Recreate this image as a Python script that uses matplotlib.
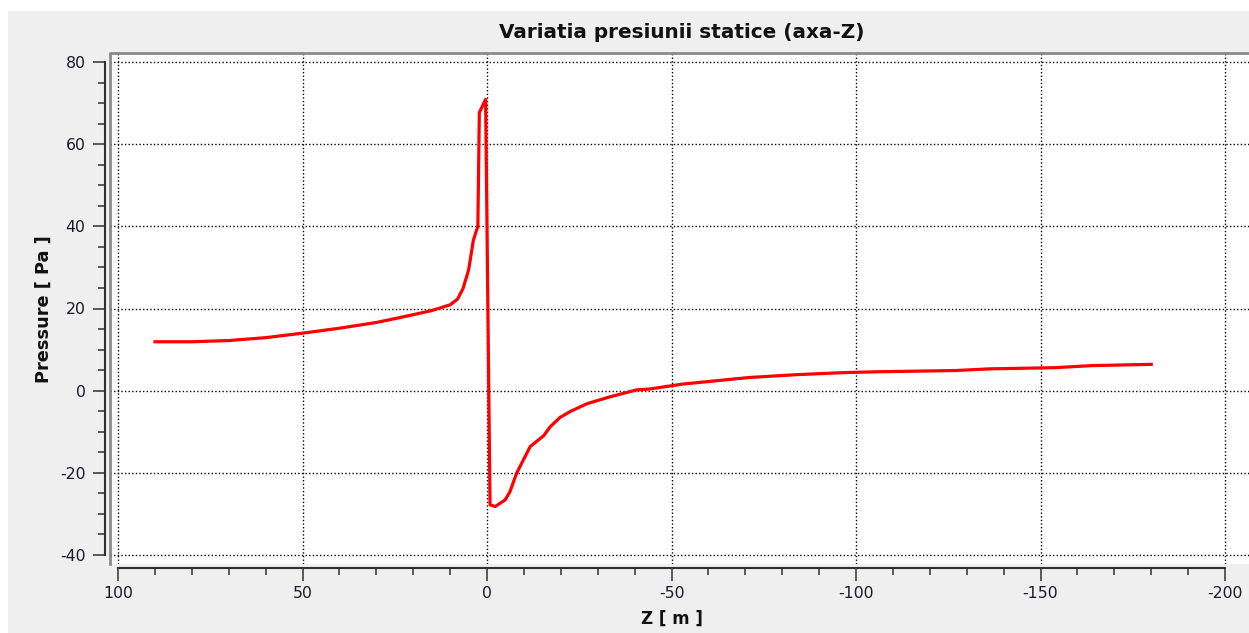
import matplotlib.pyplot as plt
from matplotlib.patches import Rectangle
from matplotlib.ticker import MultipleLocator
from matplotlib.lines import Line2D

plt.rcParams['axes.unicode_minus'] = False

# Static pressure along the Z axis
z_m = [90, 80, 70, 60, 50, 40, 30, 22, 15, 10, 8, 6.5, 5, 3.7, 2.5, 2.1, 0.4,
       -0.8, -2.2, -4.9, -6.2, -8, -11.7, -15.3, -17.1, -19.8, -22.5, -27,
       -33.3, -40.6, -44, -53, -62, -71, -84, -97, -106, -127, -136, -154,
       -164, -180]
p_pa = [11.9, 11.9, 12.2, 12.9, 14.0, 15.2, 16.6, 18.1, 19.5, 20.9, 22.3, 24.9,
        29.4, 36.7, 40.0, 67.7, 70.9,
        -27.8, -28.2, -26.6, -24.6, -20.1, -13.6, -11.0, -8.8, -6.5, -5.1, -3.2,
        -1.5, 0.2, 0.4, 1.6, 2.4, 3.2, 3.9, 4.4, 4.6, 4.9, 5.3, 5.6, 6.1, 6.4]

title = 'Variatia presiunii statice (axa-Z)'
xlabel = 'Z [ m ]'
ylabel = 'Pressure [ Pa ]'

W, H = 1249, 633
fig = plt.figure(figsize=(W / 100, H / 100), dpi=100, facecolor='white')
# grey widget background
fig.patches.append(Rectangle((8 / W, 0), 1, 1 - 11 / H, transform=fig.transFigure,
                             facecolor='#efefef', edgecolor='none', zorder=-10))

# canvas in pixels: left 110, top 53, bottom 564, right past the image edge
ax = fig.add_axes([110 / W, 1 - 564 / H, (W - 110) / W, (564 - 53) / H])
ax.set_facecolor('white')

ax.plot(z_m, p_pa, color='#ff0000', linewidth=2.3, zorder=3)

ax.set_xlim(102.2, -206.5)
ax.set_ylim(-42.2, 82.2)

ax.xaxis.set_major_locator(MultipleLocator(50))
ax.xaxis.set_minor_locator(MultipleLocator(10))
ax.yaxis.set_major_locator(MultipleLocator(20))
ax.yaxis.set_minor_locator(MultipleLocator(5))

ax.grid(True, which='major', color='#000000', linestyle=(0, (1, 1.6)), linewidth=1.0)

# scales detached from canvas
for s in ['top', 'right']:
    ax.spines[s].set_visible(False)
ax.spines['left'].set_position(('outward', 3.6))
ax.spines['bottom'].set_position(('outward', 2.9))
ax.spines['left'].set_bounds(-40, 80)
ax.spines['bottom'].set_bounds(-200, 100)
for s in ['left', 'bottom']:
    ax.spines[s].set_color('#303030')
    ax.spines[s].set_linewidth(1.5)

ax.tick_params(which='major', length=9, width=1.1, color='#303030',
               labelsize=11.3, labelcolor='#1a1a2a')
ax.tick_params(which='minor', length=4.8, width=1.1, color='#303030')
ax.tick_params(axis='y', which='major', pad=5)
ax.tick_params(axis='x', which='major', pad=4)

# sunken canvas frame (top and left edges)
ax.add_line(Line2D([0, 0, 1], [0, 1, 1], transform=ax.transAxes, color='#8a8a8a',
                   linewidth=2, clip_on=False, zorder=5))

fig.text(682 / W, 1 - 33 / H, title, ha='center', va='center',
         fontsize=14.4, fontweight='bold', color='#111111')
fig.text(671.5 / W, 1 - 619 / H, xlabel, ha='center', va='center',
         fontsize=12, fontweight='bold', color='#111111')
fig.text(43.5 / W, 1 - 309 / H, ylabel, ha='center', va='center', rotation=90,
         fontsize=12.8, fontweight='bold', color='#111111')

fig.savefig('out.png', dpi=100)
